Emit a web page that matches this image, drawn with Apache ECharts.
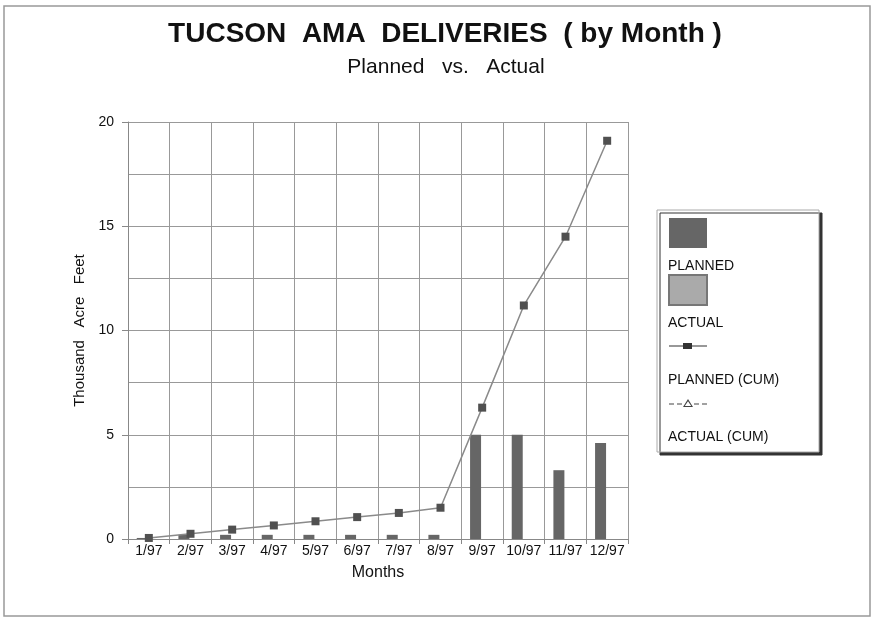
<!DOCTYPE html>
<html>
<head>
<meta charset="utf-8">
<script src="https://cdn.jsdelivr.net/npm/echarts@6/dist/echarts.min.js"></script>
<style>
 html,body{margin:0;padding:0;background:#fff}
 #main{width:875px;height:620px}
</style>
</head>
<body>
<div id="main"></div>
<script>
// months on the x axis
var months = ['1/97', '2/97', '3/97', '4/97', '5/97', '6/97', '7/97', '8/97', '9/97', '10/97', '11/97', '12/97'];
// monthly deliveries, thousand acre feet
var planned = [0.05, 0.2, 0.2, 0.2, 0.2, 0.2, 0.2, 0.2, 5.0, 5.0, 3.3, 4.6];
var actual = [null, null, null, null, null, null, null, null, null, null, null, null];
// cumulative
var plannedCum = [0.05, 0.25, 0.45, 0.65, 0.85, 1.05, 1.25, 1.5, 6.3, 11.2, 14.5, 19.1];
var actualCum = [null, null, null, null, null, null, null, null, null, null, null, null];
var names = ['PLANNED', 'ACTUAL', 'PLANNED (CUM)', 'ACTUAL (CUM)'];

var myChart = echarts.init(document.getElementById('main'));
var fnt = 'Arial, "Liberation Sans", sans-serif';

// legend icons (38x30 box, tiny corner specks keep the box size)
var box = 'M0,0L0.001,0L0,0.001Z M38,30L37.999,30L38,29.999Z ';
var lineSq = 'path://' + box + 'M0,13.5L38,13.5L38,14.5L0,14.5Z M14,11L23,11L23,17L14,17Z';
var dashTri = 'path://' + box + 'M0,15.5L5,15.5L5,16.5L0,16.5Z M8,15.5L13,15.5L13,16.5L8,16.5Z M25,15.5L30,15.5L30,16.5L25,16.5Z M33,15.5L38,15.5L38,16.5L33,16.5Z ' +
	'M19,11L24,19L14,19Z M19,13.2L15.8,18L22.2,18Z';

var option = {
	backgroundColor: '#fff',
	animation: false,
	title: [{
		text: 'TUCSON  AMA  DELIVERIES  ( by Month )',
		left: 440, top: 15, textAlign: 'center',
		textStyle: {fontFamily: fnt, fontSize: 28, fontWeight: 'bold', color: '#111'}
	}, {
		text: 'Planned   vs.   Actual',
		left: 441, top: 52, textAlign: 'center',
		textStyle: {fontFamily: fnt, fontSize: 21, fontWeight: 'normal', color: '#111'}
	}],
	graphic: [{
		type: 'rect', z: -10,
		shape: {x: 4, y: 6, width: 866, height: 610},
		style: {fill: '#fff', stroke: '#999', lineWidth: 1.5}
	}, {
		type: 'rect', z: 1,
		shape: {x: 657, y: 210, width: 162, height: 242},
		style: {fill: '#fff', stroke: '#aaa', lineWidth: 1, shadowColor: '#333', shadowOffsetX: 3, shadowOffsetY: 3, shadowBlur: 0}
	}],
	legend: [{
		// icons only
		data: [
			{name: 'PLANNED', icon: 'rect'},
			{name: 'ACTUAL', icon: 'rect'},
			{name: 'PLANNED (CUM)', icon: lineSq, itemStyle: {color: '#333', borderWidth: 0}},
			{name: 'ACTUAL (CUM)', icon: dashTri, itemStyle: {color: '#444', borderWidth: 0}}
		],
		orient: 'vertical', left: 663, top: 213,
		itemWidth: 38, itemHeight: 30, itemGap: 26,
		selectedMode: false, z: 5,
		formatter: function () { return ''; }
	}, {
		// labels only
		data: names, orient: 'vertical', left: 662, top: 253,
		itemWidth: 0, itemHeight: 16, itemGap: 40,
		selectedMode: false, z: 5, icon: 'rect',
		itemStyle: {opacity: 0}, lineStyle: {opacity: 0},
		textStyle: {fontFamily: fnt, fontSize: 14, color: '#111', padding: [0, 0, 0, -5]}
	}],
	grid: {left: 128, right: 247, top: 122, bottom: 81},
	xAxis: {
		type: 'category',
		data: months,
		name: 'Months', nameLocation: 'middle', nameGap: 26,
		nameTextStyle: {fontFamily: fnt, fontSize: 16, color: '#111'},
		axisLine: {lineStyle: {color: '#888'}},
		axisTick: {show: true, length: 5, lineStyle: {color: '#888'}},
		axisLabel: {fontFamily: fnt, fontSize: 14, color: '#111', margin: 5, interval: 0},
		splitLine: {show: true, lineStyle: {color: '#999'}}
	},
	yAxis: {
		type: 'value', min: 0, max: 20, interval: 5,
		name: 'Thousand   Acre   Feet', nameLocation: 'middle', nameGap: 32,
		nameTextStyle: {fontFamily: fnt, fontSize: 15, color: '#111'},
		axisLine: {show: true, lineStyle: {color: '#888'}},
		axisTick: {show: true, length: 6, lineStyle: {color: '#888'}},
		axisLabel: {fontFamily: fnt, fontSize: 14, color: '#111', margin: 14},
		splitLine: {lineStyle: {color: '#999'}},
		minorTick: {show: false, splitNumber: 2},
		minorSplitLine: {show: true, lineStyle: {color: '#999'}}
	},
	series: [{
		name: 'PLANNED', type: 'bar', data: planned,
		barWidth: 11, barGap: '20%',
		itemStyle: {color: '#666'}
	}, {
		name: 'ACTUAL', type: 'bar', data: actual,
		barWidth: 11,
		itemStyle: {color: '#aaa', borderColor: '#777', borderType: 'dotted', borderWidth: 1}
	}, {
		name: 'PLANNED (CUM)', type: 'line', data: plannedCum,
		symbol: 'rect', symbolSize: 8, z: 4,
		lineStyle: {color: '#8a8a8a', width: 1.5},
		itemStyle: {color: '#505050'}
	}, {
		name: 'ACTUAL (CUM)', type: 'line', data: actualCum,
		symbol: 'triangle', symbolSize: 8, z: 4,
		lineStyle: {color: '#666', width: 1, type: 'dashed'},
		itemStyle: {color: '#fff', borderColor: '#444', borderWidth: 1}
	}]
};

myChart.setOption(option);
</script>
</body>
</html>
